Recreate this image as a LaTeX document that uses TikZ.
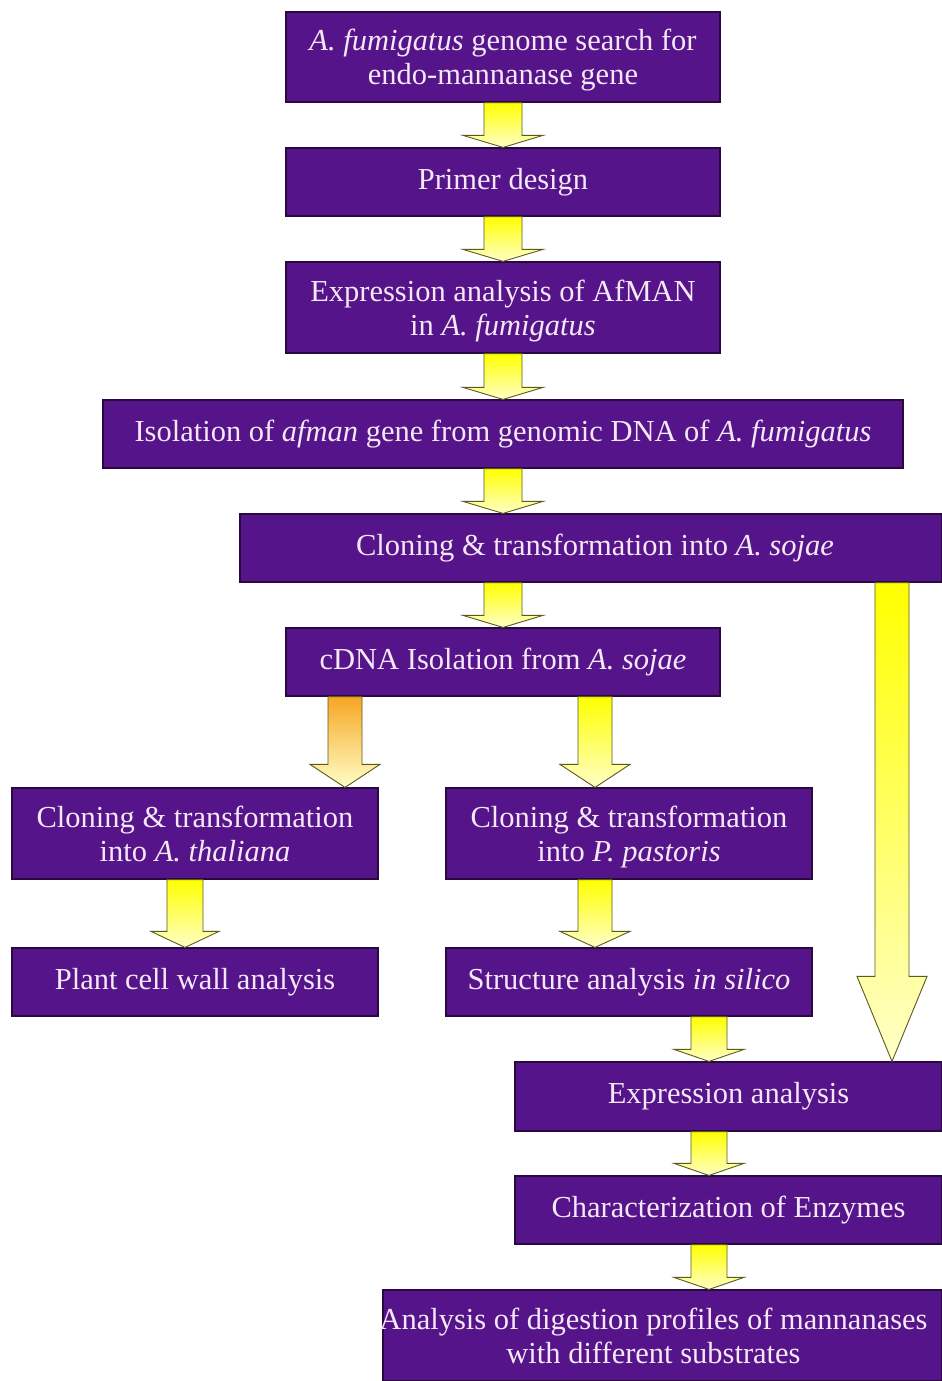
\documentclass[tikz,border=0pt]{standalone}
\usepackage{fontspec}
\setmainfont{Liberation Serif}
\usetikzlibrary{calc}
\definecolor{boxpurple}{HTML}{56148A}
\definecolor{boxedge}{HTML}{2A0A3E}
\definecolor{boxtext}{HTML}{F4E8F6}
\definecolor{arredge}{HTML}{5A5A20}
\definecolor{arrorange}{HTML}{F7A623}
\newcommand{\firstline}{\rule{0pt}{32pt}}
\tikzset{
  box/.style={draw=boxedge, line width=1.2pt, fill=boxpurple, text=boxtext,
    align=center, inner sep=2pt, font=\fontspec{Liberation Serif}\fontsize{30.5}{34}\selectfont},
  blockarr/.style={draw=arredge, line width=0.9pt, line join=miter},
}
% #1 start point, #2 end point, #3 shaft half width, #4 head half width, #5 head length, #6 top colour
\newcommand{\blockarrow}[6]{%
  \shadedraw[blockarr, top color=#6, bottom color=yellow!22]
    let \p1=(#1), \p2=(#2) in
    (\x1-#3,\y1) -- (\x1+#3,\y1) -- (\x1+#3,\y2+#5) -- (\x1+#4,\y2+#5)
    -- (\x1,\y2) -- (\x1-#4,\y2+#5) -- (\x1-#3,\y2+#5) -- cycle;}
\begin{document}
\begin{tikzpicture}[x=1pt,y=-1pt]
\useasboundingbox[fill=white] (0,0) rectangle (942,1381);

\node[box, minimum width=434pt, minimum height=90pt] (n1) at (503,57)
  {\firstline\textit{A. fumigatus} genome search for\\\strut endo-mannanase gene};
\node[box, minimum width=434pt, minimum height=68pt] (n2) at (503,182)
  {Primer design};
\node[box, minimum width=434pt, minimum height=91pt] (n3) at (503,307.5)
  {\firstline Expression analysis of AfMAN\\\strut in \textit{A. fumigatus}};
\node[box, minimum width=800pt, minimum height=68pt] (n4) at (503,434)
  {Isolation of \textit{afman} gene from genomic DNA of \textit{A. fumigatus}};
\node[box, minimum width=702pt, minimum height=68pt] (n5) at (591,548)
  {\hspace*{8pt}Cloning \& transformation into \textit{A. sojae}};
\node[box, minimum width=434pt, minimum height=68pt] (n6) at (503,662)
  {cDNA Isolation from \textit{A. sojae}};
\node[box, minimum width=366pt, minimum height=91pt] (n7) at (195,833.5)
  {\firstline Cloning \& transformation\\\strut into \textit{A. thaliana}};
\node[box, minimum width=366pt, minimum height=91pt] (n8) at (629,833.5)
  {\firstline Cloning \& transformation\\\strut into \textit{P. pastoris}};
\node[box, minimum width=366pt, minimum height=68pt] (n9) at (195,982)
  {Plant cell wall analysis};
\node[box, minimum width=366pt, minimum height=68pt] (n10) at (629,982)
  {Structure analysis \textit{in silico}};
\node[box, minimum width=427pt, minimum height=69pt] (n11) at (728.5,1096.5)
  {Expression analysis};
\node[box, minimum width=427pt, minimum height=68pt] (n12) at (728.5,1210)
  {Characterization of Enzymes};
\node[box, minimum width=559pt, minimum height=91pt] (n13) at (662.5,1335.5)
  {\hspace*{-18pt}\firstline Analysis of digestion profiles of mannanases\\\hspace*{-18pt}\strut with different substrates};

\coordinate (xm) at (503,0);
\coordinate (xl) at (345,0);
\coordinate (xr) at (595,0);
\coordinate (xll) at (185,0);
\coordinate (xe) at (892,0);
\coordinate (xs) at (709,0);

\blockarrow{n1.south -| xm}{n2.north -| xm}{19}{40}{12}{yellow}
\blockarrow{n2.south -| xm}{n3.north -| xm}{19}{40}{12}{yellow}
\blockarrow{n3.south -| xm}{n4.north -| xm}{19}{40}{12}{yellow}
\blockarrow{n4.south -| xm}{n5.north -| xm}{19}{40}{12}{yellow}
\blockarrow{n5.south -| xm}{n6.north -| xm}{19}{40}{12}{yellow}
\blockarrow{n6.south -| xl}{n7.north -| xl}{17}{35}{23}{arrorange}
\blockarrow{n6.south -| xr}{n8.north -| xr}{17}{35}{23}{yellow}
\blockarrow{n5.south -| xe}{n11.north -| xe}{17}{35}{85}{yellow}
\blockarrow{n7.south -| xll}{n9.north -| xll}{18}{34}{16}{yellow}
\blockarrow{n8.south -| xr}{n10.north -| xr}{17}{35}{16}{yellow}
\blockarrow{n10.south -| xs}{n11.north -| xs}{18}{35}{12}{yellow}
\blockarrow{n11.south -| xs}{n12.north -| xs}{18}{35}{12}{yellow}
\blockarrow{n12.south -| xs}{n13.north -| xs}{18}{35}{12}{yellow}
\end{tikzpicture}
\end{document}
